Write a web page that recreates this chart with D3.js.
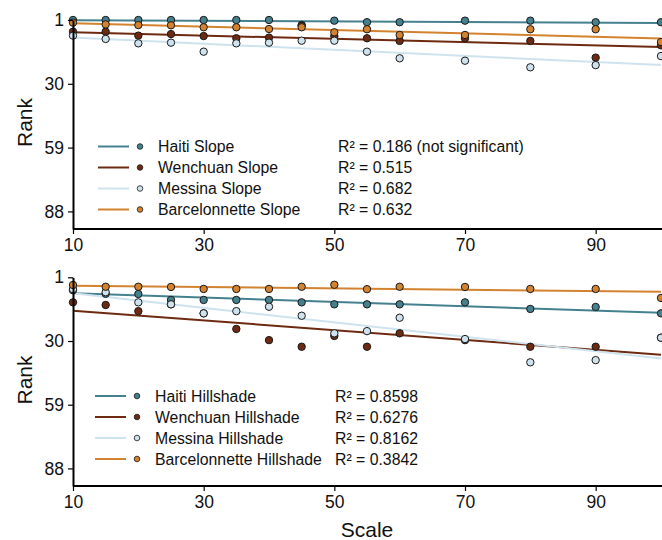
<!DOCTYPE html>
<html><head><meta charset="utf-8">
<script src="https://cdn.jsdelivr.net/npm/d3@7"></script>
<style>
body{margin:0;background:#fff;}
text{font-family:"Liberation Sans",Arial,Helvetica,sans-serif;}
</style></head>
<body><svg id="c" width="662" height="540"></svg>
<script>
// ---- data ----
const scales = [10,15,20,25,30,35,40,45,50,55,60,70,80,90,100];
const xTicks = [10,30,50,70,90];
const yTicks = [1,30,59,88];
const series = ["Haiti","Wenchuan","Messina","Barcelonnette"];
const colors = ["#44808e","#6e2a10","#cfe3ef","#d3832f"];

// Slope panel (rank per scale)
const slopeHaiti = [1,1,1,1,1,1,1,3.3,1.3,2,2,1.3,1.3,2,2];
const slopeWenchuan = [6.3,6.3,8.1,7.4,8.3,9.3,9,3.6,8.3,9.3,10.5,9.3,10.5,18.1,12.5];
const slopeMessina = [8.1,9.6,11.6,11.3,15.4,11.6,11.3,10.4,10.4,15.4,18.4,19.5,22.5,21.5,17.4];
const slopeBarcelonnette = [2.2,3,3.3,3.4,4.3,4.3,5.1,4.3,6.6,5.2,7.8,7.8,5.2,5.2,11];
const slopeFitStart = [1.1,6.6,9.0,2.5];   // fitted rank at scale 10
const slopeFitEnd = [2.4,13.3,21.5,9.4];   // fitted rank at scale 100
const slopeR2 = ["R² = 0.186 (not significant)","R² = 0.515","R² = 0.682","R² = 0.632"];

// Hillshade panel
const hillHaiti = [6.9,8.5,8.6,11.3,11.3,11.3,11.3,12.4,13.3,13.3,13.3,12.4,15.4,14.5,17.4];
const hillWenchuan = [12.4,13.6,16.4,13.3,17.4,24.5,29.6,32.6,27.7,32.6,26.5,29.6,32.6,32.6,28.5];
const hillMessina = [6.4,7.8,12.4,13.3,17.4,16.4,14.4,18.5,26.5,25.5,19.4,29.1,39.7,38.7,28.5];
const hillBarcelonnette = [4.5,5.3,5.3,5.4,6.3,6.3,6.3,5.3,4.4,6.4,5.3,5.4,6.3,6.3,10.4];
const hillFitStart = [8.3,16.2,8.3,4.8];
const hillFitEnd = [17.1,36.2,38.0,7.6];
const hillR2 = ["R² = 0.8598","R² = 0.6276","R² = 0.8162","R² = 0.3842"];

// ---- drawing ----
const svg = d3.select("#c");
const x = d3.scaleLinear().domain([10,100]).range([73,661]);

function panel(cfg){
  const y = d3.scaleLinear().domain([1,96]).range([cfg.top, cfg.bottom]);
  const g = svg.append("g");
  // fit lines
  series.forEach((s,i)=>{
    g.append("line")
      .attr("x1",x(10)).attr("y1",y(cfg.fitStart[i]))
      .attr("x2",x(100)).attr("y2",y(cfg.fitEnd[i]))
      .attr("stroke",colors[i]).attr("stroke-width",2);
  });
  // points
  cfg.values.forEach((vals,i)=>{
    g.selectAll(null).data(vals).enter().append("circle")
      .attr("cx",(d,j)=>x(scales[j])).attr("cy",d=>y(d)).attr("r",3.7)
      .attr("fill",colors[i]).attr("stroke","#1a1a1a").attr("stroke-width",1);
  });
  // axes
  const ax = g.append("g").attr("transform",`translate(0,${cfg.bottom})`)
    .call(d3.axisBottom(x).tickValues(xTicks).tickSize(5).tickSizeOuter(0).tickPadding(5));
  ax.select(".domain").attr("stroke-width",2).attr("d",`M73,0H662`);
  ax.selectAll(".tick line").attr("stroke-width",1.2);
  ax.selectAll("text").attr("font-size",17.5).attr("fill","#111");
  const ay = g.append("g").attr("transform","translate(73,0)")
    .call(d3.axisLeft(y).tickValues(yTicks).tickSize(5).tickSizeOuter(0).tickPadding(4));
  ay.select(".domain").attr("stroke-width",2);
  ay.selectAll(".tick line").attr("stroke-width",1.2);
  ay.selectAll("text").attr("font-size",17.5).attr("fill","#111");
  // y title
  g.append("text").attr("transform",`translate(32,${cfg.labelY}) rotate(-90)`)
    .attr("text-anchor","middle").attr("font-size",21).attr("fill","#111").text("Rank");
  // legend
  series.forEach((s,i)=>{
    const yy = cfg.legY + i*21;
    g.append("line").attr("x1",cfg.legX).attr("x2",cfg.legX+31).attr("y1",yy).attr("y2",yy)
      .attr("stroke",colors[i]).attr("stroke-width",2);
    g.append("circle").attr("cx",cfg.legX+42).attr("cy",yy).attr("r",2.8)
      .attr("fill",colors[i]).attr("stroke","#1a1a1a").attr("stroke-width",0.8);
    g.append("text").attr("x",cfg.legX+60).attr("y",yy+5.6).attr("font-size",15.8)
      .attr("fill","#111").text(s+" "+cfg.name);
    g.append("text").attr("x",cfg.r2X).attr("y",yy+5.6).attr("font-size",15.8)
      .attr("fill","#111").text(cfg.r2[i]);
  });
}

panel({top:20,bottom:229,labelY:122.5,name:"Slope",
  values:[slopeHaiti,slopeWenchuan,slopeMessina,slopeBarcelonnette],
  fitStart:slopeFitStart,fitEnd:slopeFitEnd,r2:slopeR2,legX:98,legY:146.5,r2X:338});
panel({top:277.3,bottom:486,labelY:380,name:"Hillshade",
  values:[hillHaiti,hillWenchuan,hillMessina,hillBarcelonnette],
  fitStart:hillFitStart,fitEnd:hillFitEnd,r2:hillR2,legX:95,legY:396,r2X:335});

svg.append("text").attr("x",367).attr("y",537).attr("text-anchor","middle")
  .attr("font-size",21).attr("fill","#111").text("Scale");
</script></body></html>
